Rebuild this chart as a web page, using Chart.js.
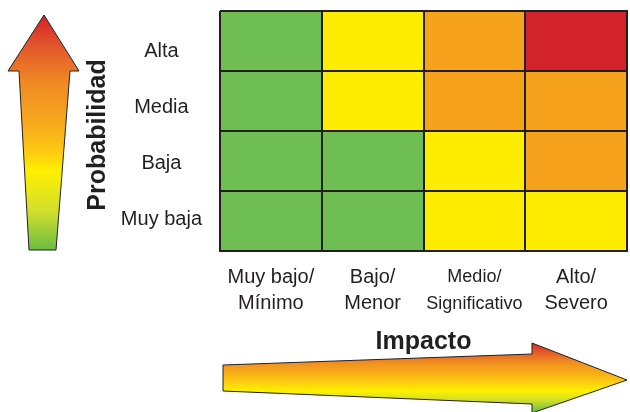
<!DOCTYPE html>
<html><head><meta charset="utf-8">
<script src="https://cdn.jsdelivr.net/npm/chart.js@4/dist/chart.umd.min.js"></script>
<style>html,body{margin:0;padding:0;background:#fff;}canvas{display:block;}</style>
</head><body>
<canvas id="c" width="630" height="412"></canvas>
<script>
// ---- data ----
const impactLabels = [['Muy bajo/','Mínimo'],['Bajo/','Menor'],['Medio/','Significativo'],['Alto/','Severo']];
const probabilityLabels = ['Muy baja','Baja','Media','Alta']; // bottom to top
// risk level per cell (1 = low/green, 2 = yellow, 3 = orange, 4 = red), by impact column
const riskMuyBaja = [1,1,2,2];
const riskBaja    = [1,1,2,3];
const riskMedia   = [1,2,3,3];
const riskAlta    = [1,2,3,4];
const cellSpan    = [1,1,1,1];
const impactTitle = 'Impacto';
const probabilityTitle = 'Probabilidad';

// ---- styles ----
const riskColors = {1:'#6fbe54',2:'#ffed00',3:'#f6a21c',4:'#d2232a'};
const ink = '#231f20';
const FONT = "'Liberation Sans', Arial, Helvetica, sans-serif";
Chart.defaults.color = ink;
Chart.defaults.font.family = FONT;

const rows = [riskMuyBaja, riskBaja, riskMedia, riskAlta];
const datasets = rows.map((r, i) => ({
  label: probabilityLabels[i],
  data: cellSpan.slice(),
  backgroundColor: r.map(v => riskColors[v]),
  borderWidth: 0,
  barPercentage: 1,
  categoryPercentage: 1,
  yAxisID: 'y',
  stack: 'm'
}));

function vGrad(ctx, y0, y1, stops) {
  const g = ctx.createLinearGradient(0, y0, 0, y1);
  stops.forEach(s => g.addColorStop(Math.min(1, Math.max(0, (s[0] - y0) / (y1 - y0))), s[1]));
  return g;
}

const arrows = {
  id: 'arrows',
  afterLayout(chart) {
    // row labels sit on a slightly tighter band than the cells
    const s = chart.scales.yl;
    s.top = chart.chartArea.top + 12;
    s.bottom = chart.chartArea.bottom - 4;
    s.height = s.bottom - s.top;
    s.configure();
  },
  afterDraw(chart) {
    const ctx = chart.ctx, ca = chart.chartArea;
    ctx.save();
    ctx.lineJoin = 'miter';
    ctx.strokeStyle = ink;
    ctx.lineWidth = 1;
    // vertical arrow (probability)
    const t = ca.top + 4, hb = ca.top + 60, b = ca.bottom - 1;
    ctx.beginPath();
    ctx.moveTo(44, t);
    ctx.lineTo(79, hb);
    ctx.lineTo(70, hb);
    ctx.lineTo(56, b);
    ctx.lineTo(29, b);
    ctx.lineTo(19, hb);
    ctx.lineTo(8, hb);
    ctx.closePath();
    ctx.fillStyle = vGrad(ctx, t, b, [[t,'#d4202a'],[t+30,'#e2552b'],[hb+12,'#ef8a24'],[hb+50,'#f7a81d'],[hb+78,'#fcc512'],[hb+100,'#fff000'],[hb+140,'#d2df2b'],[b,'#6abd45']]);
    ctx.fill();
    ctx.stroke();
    // horizontal arrow (impact)
    const l = ca.left + 3, r = ca.right, sx = ca.left + 312, cy = 380;
    ctx.beginPath();
    ctx.moveTo(l, 365);
    ctx.lineTo(sx, 354);
    ctx.lineTo(sx, 343);
    ctx.lineTo(r, cy);
    ctx.lineTo(sx, 413);
    ctx.lineTo(sx, 404);
    ctx.lineTo(l, 391);
    ctx.closePath();
    ctx.fillStyle = vGrad(ctx, 343, 413, [[343,'#d4262a'],[352,'#e35a27'],[363,'#f0901f'],[378,'#fbbd14'],[391,'#fff000'],[401,'#c9dd2c'],[412,'#6cbd45']]);
    ctx.fill();
    ctx.stroke();
    ctx.restore();
  }
};

function noPad(s) { s.paddingTop = 0; s.paddingBottom = 0; s.paddingLeft = 0; s.paddingRight = 0; }

new Chart(document.getElementById('c'), {
  type: 'bar',
  data: { labels: impactLabels, datasets },
  options: {
    responsive: false,
    animation: false,
    layout: { padding: { left: 79, right: 3, top: 11, bottom: 51 } },
    plugins: { legend: { display: false }, tooltip: { enabled: false } },
    scales: {
      x: {
        type: 'category',
        position: 'bottom',
        offset: true,
        stacked: true,
        grid: { offset: true, color: ink, lineWidth: 2, drawTicks: false, z: 1 },
        border: { display: true, color: ink, width: 2, z: 1 },
        ticks: {
          padding: 13,
          maxRotation: 0,
          autoSkip: false,
          color: ink,
          font: (c) => c.index === 2 ? { family: FONT, size: 18, lineHeight: 1.48 } : { family: FONT, size: 20, lineHeight: 1.33 }
        },
        title: { display: true, text: impactTitle, color: ink, font: { family: FONT, size: 25, weight: 'bold', lineHeight: 1.2 }, padding: { top: 4, bottom: 4 } },
        afterFit(s) { s.height = 110; noPad(s); }
      },
      y: {
        type: 'linear',
        position: 'right',
        stacked: true,
        min: 0, max: 4,
        ticks: { display: false, stepSize: 1 },
        grid: { color: ink, lineWidth: 2, drawTicks: false, z: 1 },
        border: { display: true, color: ink, width: 2, z: 1 },
        afterFit(s) { s.width = 0; noPad(s); }
      },
      yl: {
        type: 'category',
        position: 'left',
        reverse: true,
        labels: probabilityLabels,
        offset: true,
        grid: { display: false },
        border: { display: false },
        ticks: { crossAlign: 'center', padding: 10, color: ink, font: { family: FONT, size: 20 } },
        title: { display: true, text: probabilityTitle, color: ink, font: { family: FONT, size: 25, weight: 'bold', lineHeight: 1.2 }, padding: { top: 4, bottom: 4 } },
        afterFit(s) { s.width = 141; noPad(s); }
      }
    }
  },
  plugins: [arrows]
});
</script>
</body></html>
